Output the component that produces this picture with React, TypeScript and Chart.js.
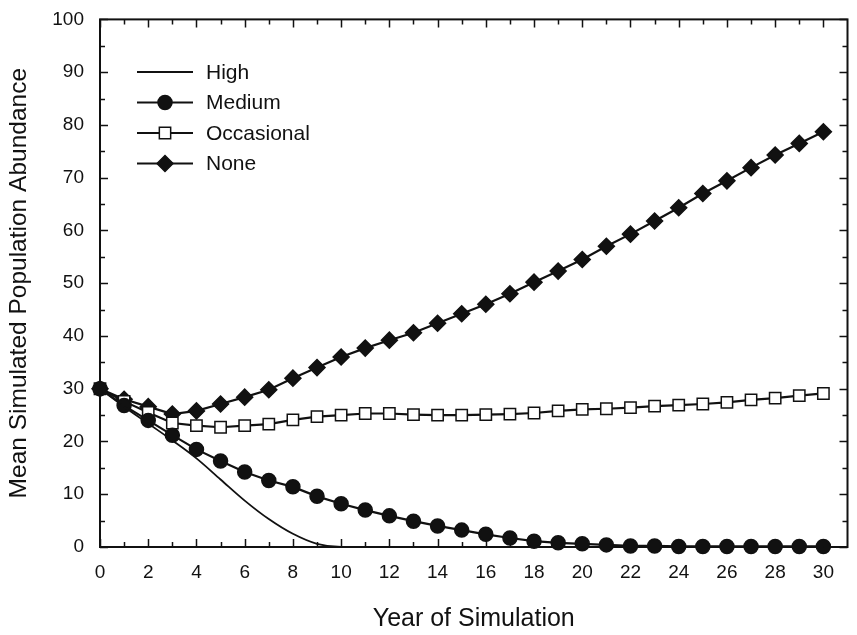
import React, { useEffect, useRef } from "react";
import { Chart, registerables } from "chart.js";

Chart.register(...registerables);

// Simulation year (x) and mean abundance per management scenario
const years = [0, 1, 2, 3, 4, 5, 6, 7, 8, 9, 10, 11, 12, 13, 14, 15, 16, 17, 18, 19, 20, 21, 22, 23, 24, 25, 26, 27, 28, 29, 30];

const high = [30, 26.6, 23.4, 20.2, 16.8, 12.8, 8.8, 5.3, 2.5, 0.6, 0, 0, 0, 0, 0, 0, 0, 0, 0, 0, 0, 0, 0, 0, 0, 0, 0, 0, 0, 0, 0];
const medium = [30, 26.8, 24.0, 21.2, 18.5, 16.3, 14.2, 12.6, 11.4, 9.6, 8.2, 7.0, 5.9, 4.9, 4.0, 3.2, 2.4, 1.7, 1.1, 0.8, 0.6, 0.4, 0.2, 0.2, 0.1, 0.1, 0.1, 0.1, 0.1, 0.1, 0.1];
const occasional = [30, 27.6, 25.5, 23.5, 23.0, 22.7, 23.0, 23.3, 24.1, 24.7, 25.0, 25.3, 25.3, 25.1, 25.0, 25.0, 25.1, 25.2, 25.4, 25.8, 26.1, 26.2, 26.4, 26.7, 26.9, 27.1, 27.4, 27.9, 28.2, 28.7, 29.1];
const none = [30, 28.0, 26.6, 25.2, 25.8, 27.1, 28.4, 29.8, 32.0, 34.0, 36.0, 37.7, 39.2, 40.6, 42.4, 44.2, 46.0, 48.0, 50.2, 52.3, 54.5, 57.0, 59.3, 61.8, 64.3, 67.0, 69.4, 71.9, 74.3, 76.5, 78.7];

const seriesNames = ["High", "Medium", "Occasional", "None"];

// Axis tick values
const xLabelTicks = [0, 2, 4, 6, 8, 10, 12, 14, 16, 18, 20, 22, 24, 26, 28, 30];
const xMarkTicks = [0, 1, 2, 3, 4, 5, 6, 7, 8, 9, 10, 11, 12, 13, 14, 15, 16, 17, 18, 19, 20, 21, 22, 23, 24, 25, 26, 27, 28, 29, 30];
const yLabelTicks = [0, 10, 20, 30, 40, 50, 60, 70, 80, 90, 100];
const yMarkTicks = [0, 5, 10, 15, 20, 25, 30, 35, 40, 45, 50, 55, 60, 65, 70, 75, 80, 85, 90, 95, 100];

const INK = "#111";
const FONT = "'Liberation Sans', Arial, sans-serif";

const toPoints = (vals: number[]) => vals.map((v, i) => ({ x: years[i], y: v }));

// Boxed frame with inward tick marks on all four sides
const framePlugin = {
  id: "frameTicks",
  beforeDatasetsDraw(chart: any) {
    const { ctx, chartArea: a, scales } = chart;
    const xs = scales.x;
    const ys = scales.y;
    ctx.save();
    ctx.strokeStyle = INK;
    ctx.lineWidth = 2;
    ctx.strokeRect(a.left, a.top, a.right - a.left, a.bottom - a.top);
    ctx.lineWidth = 1.5;
    ctx.beginPath();
    for (const v of xMarkTicks) {
      const px = Math.round(xs.getPixelForValue(v)) + 0.5;
      const len = v % 2 === 0 ? 8 : 5;
      ctx.moveTo(px, a.bottom);
      ctx.lineTo(px, a.bottom - len);
      ctx.moveTo(px, a.top);
      ctx.lineTo(px, a.top + len);
    }
    for (const v of yMarkTicks) {
      const py = Math.round(ys.getPixelForValue(v)) + 0.5;
      const len = v % 10 === 0 ? 8 : 5;
      ctx.moveTo(a.left, py);
      ctx.lineTo(a.left + len, py);
      ctx.moveTo(a.right, py);
      ctx.lineTo(a.right - len, py);
    }
    ctx.stroke();
    ctx.restore();
  },
};

function drawMarker(ctx: CanvasRenderingContext2D, style: string, x: number, y: number, r: number, fill: string) {
  ctx.beginPath();
  if (style === "circle") {
    ctx.arc(x, y, r, 0, Math.PI * 2);
  } else if (style === "rect") {
    const s = r * Math.SQRT1_2;
    ctx.rect(x - s, y - s, 2 * s, 2 * s);
  } else if (style === "rectRot") {
    ctx.moveTo(x - r, y);
    ctx.lineTo(x, y - r);
    ctx.lineTo(x + r, y);
    ctx.lineTo(x, y + r);
    ctx.closePath();
  } else {
    return;
  }
  ctx.fillStyle = fill;
  ctx.fill();
  ctx.stroke();
}

// Legend inside the plot: short line with the series marker, then the name
const legendPlugin = {
  id: "insetLegend",
  afterDatasetsDraw(chart: any) {
    const { ctx } = chart;
    const x0 = 137;
    const x1 = 193;
    const textX = 206;
    const top = 72;
    const step = 30.5;
    ctx.save();
    chart.data.datasets.forEach((ds: any, i: number) => {
      const y = top + i * step;
      ctx.strokeStyle = INK;
      ctx.lineWidth = 2;
      ctx.beginPath();
      ctx.moveTo(x0, y);
      ctx.lineTo(x1, y);
      ctx.stroke();
      if (ds.pointRadius > 0) {
        ctx.lineWidth = 1.5;
        drawMarker(ctx, ds.pointStyle, (x0 + x1) / 2, y, ds.pointRadius, ds.pointBackgroundColor);
      }
      ctx.fillStyle = INK;
      ctx.font = `21px ${FONT}`;
      ctx.textBaseline = "middle";
      ctx.textAlign = "left";
      ctx.fillText(ds.label, textX, y + 1);
    });
    ctx.restore();
  },
};

export default function App() {
  const canvasRef = useRef<HTMLCanvasElement | null>(null);

  useEffect(() => {
    const canvas = canvasRef.current;
    if (!canvas) return;
    Chart.defaults.font.family = FONT;
    Chart.defaults.color = INK;

    const common = {
      borderColor: INK,
      borderWidth: 2.2,
      pointBorderColor: INK,
      pointBorderWidth: 1.5,
      clip: false as any,
      fill: false,
    };

    const chart = new Chart(canvas, {
      type: "line",
      data: {
        datasets: [
          {
            ...common,
            label: seriesNames[0],
            data: toPoints(high),
            pointRadius: 0,
            pointStyle: "circle",
            pointBackgroundColor: INK,
            cubicInterpolationMode: "monotone",
            borderWidth: 1.8,
          },
          {
            ...common,
            label: seriesNames[1],
            data: toPoints(medium),
            pointRadius: 7,
            pointStyle: "circle",
            pointBackgroundColor: INK,
          },
          {
            ...common,
            label: seriesNames[2],
            data: toPoints(occasional),
            pointRadius: 8,
            pointStyle: "rect",
            pointBackgroundColor: "#fff",
          },
          {
            ...common,
            label: seriesNames[3],
            data: toPoints(none),
            pointRadius: 8,
            pointStyle: "rectRot",
            pointBackgroundColor: INK,
          },
        ],
      },
      options: {
        responsive: false,
        animation: false,
        events: [],
        layout: { padding: { top: 17, right: 3, left: 0, bottom: 0 } },
        plugins: {
          legend: { display: false },
          tooltip: { enabled: false },
        },
        scales: {
          x: {
            type: "linear",
            min: 0,
            max: 31,
            grid: { display: false },
            border: { display: false },
            afterBuildTicks: (scale: any) => {
              scale.ticks = xLabelTicks.map((v) => ({ value: v }));
            },
            afterFit: (scale: any) => {
              scale.height = 88;
            },
            ticks: {
              padding: 6,
              maxRotation: 0,
              autoSkip: false,
              color: INK,
              font: { size: 19 },
            },
            title: {
              display: true,
              text: "Year of Simulation",
              color: INK,
              font: { size: 25 },
              padding: { top: 0, bottom: 1 },
            },
          },
          y: {
            type: "linear",
            min: 0,
            max: 100,
            grid: { display: false },
            border: { display: false },
            afterBuildTicks: (scale: any) => {
              scale.ticks = yLabelTicks.map((v) => ({ value: v }));
            },
            afterFit: (scale: any) => {
              scale.width = 100;
            },
            ticks: {
              padding: 8,
              autoSkip: false,
              color: INK,
              font: { size: 19 },
            },
            title: {
              display: true,
              text: "Mean Simulated Population Abundance",
              color: INK,
              font: { size: 24.5 },
              padding: { top: 5, bottom: 0 },
            },
          },
        },
      },
      plugins: [framePlugin, legendPlugin],
    });

    return () => chart.destroy();
  }, []);

  return (
    <div style={{ position: "fixed", left: 0, top: 0, width: 857, height: 635, background: "#fff" }}>
      <canvas ref={canvasRef} width={857} height={635} style={{ display: "block" }} />
    </div>
  );
}
